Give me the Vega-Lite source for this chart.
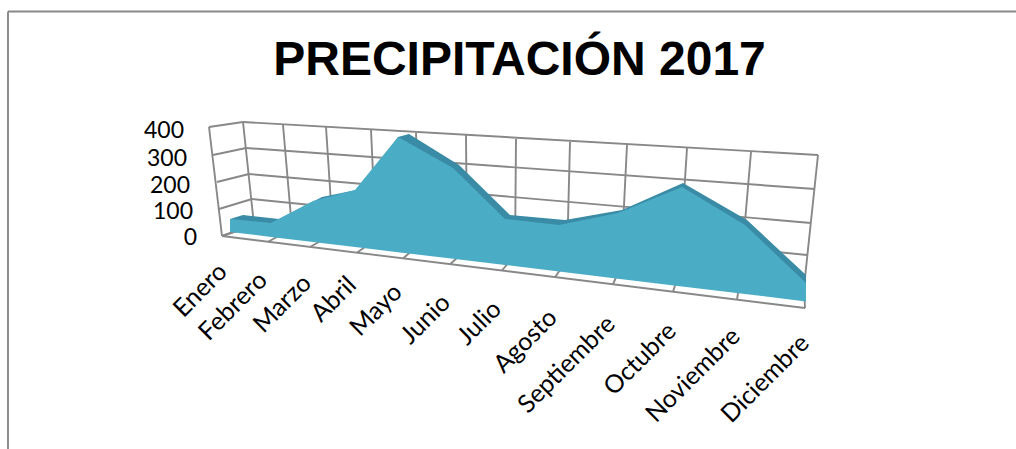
{
  "$schema": "https://vega.github.io/schema/vega-lite/v6.json",
  "width": 1016,
  "height": 449,
  "padding": 0,
  "autosize": {"type": "none"},
  "background": "white",
  "config": {"view": {"stroke": null}},
  "title": {
    "text": "PRECIPITACIÓN 2017",
    "font": "Liberation Sans",
    "fontSize": 48,
    "fontWeight": "bold",
    "color": "black",
    "anchor": "middle",
    "frame": "group",
    "offset": 0,
    "dx": 11.5,
    "dy": 85
  },
  "datasets": {
    "rejilla": [
      {"linea": "marcoSup", "x": 20.32, "y": 898},
      {"linea": "marcoSup", "x": 0.16, "y": 898},
      {"linea": "marcoIzq", "x": 0.16, "y": 898},
      {"linea": "marcoIzq", "x": 0.16, "y": -852},

      {"linea": "fondo400", "x": 4.86, "y": 456}, {"linea": "fondo400", "x": 16.36, "y": 324},
      {"linea": "fondo300", "x": 4.92, "y": 352}, {"linea": "fondo300", "x": 16.3, "y": 188},
      {"linea": "fondo200", "x": 4.98, "y": 248}, {"linea": "fondo200", "x": 16.22, "y": 52},
      {"linea": "fondo100", "x": 5.04, "y": 148}, {"linea": "fondo100", "x": 16.14, "y": -76},
      {"linea": "fondo0", "x": 5.08, "y": 44}, {"linea": "fondo0", "x": 16.08, "y": -204},

      {"linea": "lado400", "x": 4.18, "y": 436}, {"linea": "lado400", "x": 4.86, "y": 456},
      {"linea": "lado300", "x": 4.26, "y": 324}, {"linea": "lado300", "x": 4.92, "y": 352},
      {"linea": "lado200", "x": 4.34, "y": 216}, {"linea": "lado200", "x": 4.98, "y": 248},
      {"linea": "lado100", "x": 4.38, "y": 108}, {"linea": "lado100", "x": 5.04, "y": 148},
      {"linea": "lado0", "x": 4.44, "y": 0}, {"linea": "lado0", "x": 5.08, "y": 44},
      {"linea": "esquina", "x": 4.18, "y": 436}, {"linea": "esquina", "x": 4.44, "y": 0},

      {"linea": "v1", "x": 4.86, "y": 456}, {"linea": "v1", "x": 5.08, "y": 44},
      {"linea": "v2", "x": 5.66, "y": 444}, {"linea": "v2", "x": 5.84, "y": 28},
      {"linea": "v3", "x": 6.52, "y": 436}, {"linea": "v3", "x": 6.66, "y": 8},
      {"linea": "v4", "x": 7.42, "y": 424}, {"linea": "v4", "x": 7.52, "y": -12},
      {"linea": "v5", "x": 8.32, "y": 412}, {"linea": "v5", "x": 8.39, "y": -32},
      {"linea": "v6", "x": 9.32, "y": 404}, {"linea": "v6", "x": 9.34, "y": -52},
      {"linea": "v7", "x": 10.32, "y": 388}, {"linea": "v7", "x": 10.3, "y": -74},
      {"linea": "v8", "x": 11.4, "y": 376}, {"linea": "v8", "x": 11.34, "y": -96},
      {"linea": "v9", "x": 12.54, "y": 364}, {"linea": "v9", "x": 12.42, "y": -120},
      {"linea": "v10", "x": 13.74, "y": 352}, {"linea": "v10", "x": 13.58, "y": -148},
      {"linea": "v11", "x": 15.02, "y": 336}, {"linea": "v11", "x": 14.8, "y": -176},
      {"linea": "v12", "x": 16.36, "y": 324}, {"linea": "v12", "x": 16.08, "y": -204},

      {"linea": "frente", "x": 4.44, "y": 0}, {"linea": "frente", "x": 16.1, "y": -288},

      {"linea": "f1", "x": 5.08, "y": 44}, {"linea": "f1", "x": 4.44, "y": 0},
      {"linea": "f2", "x": 5.84, "y": 28}, {"linea": "f2", "x": 5.36, "y": -23},
      {"linea": "f3", "x": 6.66, "y": 8}, {"linea": "f3", "x": 6.2, "y": -44},
      {"linea": "f4", "x": 7.52, "y": -12}, {"linea": "f4", "x": 7.14, "y": -67},
      {"linea": "f5", "x": 8.39, "y": -32}, {"linea": "f5", "x": 8.06, "y": -90},
      {"linea": "f6", "x": 9.34, "y": -52}, {"linea": "f6", "x": 9.0, "y": -113},
      {"linea": "f7", "x": 10.3, "y": -74}, {"linea": "f7", "x": 10.04, "y": -138},
      {"linea": "f8", "x": 11.34, "y": -96}, {"linea": "f8", "x": 11.1, "y": -165},
      {"linea": "f9", "x": 12.42, "y": -120}, {"linea": "f9", "x": 12.26, "y": -193},
      {"linea": "f10", "x": 13.58, "y": -148}, {"linea": "f10", "x": 13.46, "y": -223},
      {"linea": "f11", "x": 14.8, "y": -176}, {"linea": "f11", "x": 14.74, "y": -255},
      {"linea": "f12", "x": 16.08, "y": -204}, {"linea": "f12", "x": 16.1, "y": -288}
    ],
    "borde": [
      {"x": 4.6, "alto": 68, "base": 56},
      {"x": 4.86, "alto": 84, "base": 56},
      {"x": 5.58, "alto": 68, "base": 36},
      {"x": 6.44, "alto": 156, "base": 16},
      {"x": 7.22, "alto": 188, "base": -4},
      {"x": 7.96, "alto": 396, "base": -21},
      {"x": 8.18, "alto": 408, "base": -25},
      {"x": 9.18, "alto": 284, "base": -51},
      {"x": 10.2, "alto": 84, "base": -76},
      {"x": 11.3, "alto": 64, "base": -102},
      {"x": 12.44, "alto": 104, "base": -131},
      {"x": 13.66, "alto": 212, "base": -162},
      {"x": 14.94, "alto": 64, "base": -192},
      {"x": 16.12, "alto": -156, "base": -222}
    ],
    "frente": [
      {"mes": "Enero", "x": 4.6, "alto": 68, "base": 16},
      {"mes": "Febrero", "x": 5.42, "alto": 52, "base": -3.6},
      {"mes": "Marzo", "x": 6.26, "alto": 140, "base": -24},
      {"mes": "Abril", "x": 7.1, "alto": 184, "base": -44},
      {"mes": "Mayo", "x": 7.96, "alto": 396, "base": -65},
      {"mes": "Junio", "x": 9.06, "alto": 272, "base": -91},
      {"mes": "Julio", "x": 10.1, "alto": 68, "base": -116},
      {"mes": "Agosto", "x": 11.18, "alto": 44, "base": -142},
      {"mes": "Septiembre", "x": 12.36, "alto": 92, "base": -171},
      {"mes": "Octubre", "x": 13.64, "alto": 196, "base": -202},
      {"mes": "Noviembre", "x": 14.9, "alto": 44, "base": -232},
      {"mes": "Diciembre", "x": 16.12, "alto": -188, "base": -262}
    ],
    "meses": [
      {"mes": "Enero", "x": 4.46, "y": -126},
      {"mes": "Febrero", "x": 5.26, "y": -160},
      {"mes": "Marzo", "x": 6.14, "y": -172},
      {"mes": "Abril", "x": 7.04, "y": -180},
      {"mes": "Mayo", "x": 7.96, "y": -208},
      {"mes": "Junio", "x": 8.92, "y": -250},
      {"mes": "Julio", "x": 9.94, "y": -276},
      {"mes": "Agosto", "x": 11.06, "y": -310},
      {"mes": "Septiembre", "x": 12.22, "y": -336},
      {"mes": "Octubre", "x": 13.44, "y": -364},
      {"mes": "Noviembre", "x": 14.72, "y": -385},
      {"mes": "Diciembre", "x": 16.1, "y": -412}
    ],
    "escala": [
      {"valor": "400", "x": 3.68, "y": 422},
      {"valor": "300", "x": 3.74, "y": 310},
      {"valor": "200", "x": 3.8, "y": 202},
      {"valor": "100", "x": 3.86, "y": 98},
      {"valor": "0", "x": 3.94, "y": -6}
    ]
  },
  "encoding": {
    "x": {"type": "quantitative", "scale": {"domain": [0, 20.32], "nice": false, "zero": false}, "axis": null},
    "y": {"type": "quantitative", "scale": {"domain": [-852, 944], "nice": false, "zero": false}, "axis": null}
  },
  "layer": [
    {
      "data": {"name": "rejilla"},
      "mark": {"type": "line", "stroke": "#888888", "strokeWidth": 1.9, "interpolate": "linear"},
      "encoding": {
        "x": {"field": "x", "type": "quantitative"},
        "y": {"field": "y", "type": "quantitative"},
        "detail": {"field": "linea"}
      }
    },
    {
      "data": {"name": "borde"},
      "mark": {"type": "area", "color": "#3A8CA6"},
      "encoding": {
        "x": {"field": "x", "type": "quantitative"},
        "y": {"field": "alto", "type": "quantitative"},
        "y2": {"field": "base"}
      }
    },
    {
      "data": {"name": "frente"},
      "mark": {"type": "area", "color": "#4BACC6"},
      "encoding": {
        "x": {"field": "x", "type": "quantitative"},
        "y": {"field": "alto", "type": "quantitative"},
        "y2": {"field": "base"}
      }
    },
    {
      "data": {"name": "meses"},
      "mark": {"type": "text", "font": "Lato", "fontSize": 25, "angle": 315, "align": "right", "baseline": "middle", "color": "black"},
      "encoding": {
        "x": {"field": "x", "type": "quantitative"},
        "y": {"field": "y", "type": "quantitative"},
        "text": {"field": "mes"}
      }
    },
    {
      "data": {"name": "escala"},
      "mark": {"type": "text", "font": "Lato", "fontSize": 23, "align": "right", "baseline": "middle", "color": "black"},
      "encoding": {
        "x": {"field": "x", "type": "quantitative"},
        "y": {"field": "y", "type": "quantitative"},
        "text": {"field": "valor"}
      }
    }
  ]
}
